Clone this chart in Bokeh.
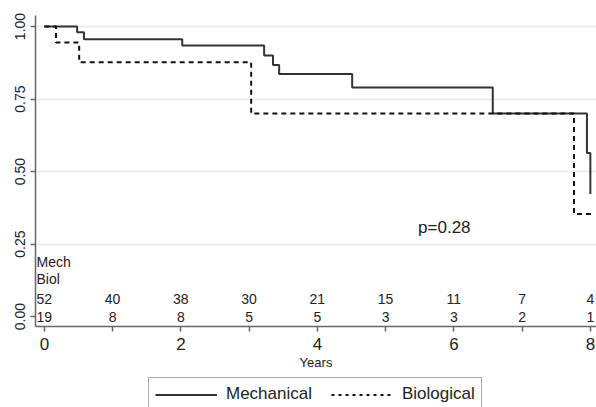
from bokeh.plotting import figure
from bokeh.layouts import column
from bokeh.models import Range1d, FixedTicker, Legend, LegendItem
from bokeh.core.properties import value
from bokeh.embed import file_html
from bokeh.resources import INLINE

# Kaplan-Meier step data
mech_time = [0.0, 0.48, 0.58, 2.02, 3.22, 3.35, 3.44, 4.51, 6.57, 7.95, 8.0]
mech_surv = [1.0, 0.98, 0.956, 0.935, 0.90, 0.867, 0.836, 0.79, 0.70, 0.564, 0.423]
biol_time = [0.0, 0.17, 0.51, 3.03, 7.76, 8.01]
biol_surv = [1.0, 0.945, 0.877, 0.70, 0.354, 0.354]

# numbers at risk
risk_years = [0, 1, 2, 3, 4, 5, 6, 7, 8]
mech_risk = [52, 40, 38, 30, 21, 15, 11, 7, 4]
biol_risk = [19, 8, 8, 5, 5, 3, 3, 2, 1]

x_ticks = [0, 2, 4, 6, 8]
x_minor = [1, 3, 5, 7]
y_ticks = [0.0, 0.25, 0.5, 0.75, 1.0]
y_labels = ["0.00", "0.25", "0.50", "0.75", "1.00"]
series_names = ["Mechanical", "Biological"]
p_text = "p=0.28"

FONT = "Liberation Sans"
TXT = "#222222"
LINE = "#333333"

p = figure(width=596, height=372, x_range=Range1d(-0.13, 8.09), y_range=Range1d(-0.034, 1.038),
           output_backend="svg", toolbar_location=None,
           min_border_left=35, min_border_right=0, min_border_top=15, min_border_bottom=45)
p.outline_line_color = None
p.background_fill_color = "white"

p.step(mech_time, mech_surv, mode="after", line_color=LINE, line_width=2)
p.step(biol_time, biol_surv, mode="after", line_color="#111111", line_width=2, line_dash="5 4")

# numbers at risk table
p.text(x=[-0.115], y=[0.19], text=["Mech"], text_font=value(FONT), text_font_size="14px",
       text_color=TXT, text_align="left", text_baseline="middle")
p.text(x=[-0.115], y=[0.13], text=["Biol"], text_font=value(FONT), text_font_size="14px",
       text_color=TXT, text_align="left", text_baseline="middle")
p.text(x=risk_years, y=[0.062] * len(risk_years), text=[str(v) for v in mech_risk],
       text_font=value(FONT), text_font_size="14px", text_color=TXT,
       text_align="center", text_baseline="middle")
p.text(x=risk_years, y=[0.0] * len(risk_years), text=[str(v) for v in biol_risk],
       text_font=value(FONT), text_font_size="14px", text_color=TXT,
       text_align="center", text_baseline="middle")
p.text(x=[5.86], y=[0.306], text=[p_text], text_font=value(FONT), text_font_size="17px",
       text_color=TXT, text_align="center", text_baseline="middle")

# axes
p.xaxis.ticker = FixedTicker(ticks=x_ticks, minor_ticks=x_minor)
p.xaxis.axis_label = "Years"
p.xaxis.axis_label_text_font = FONT
p.xaxis.axis_label_text_font_style = "normal"
p.xaxis.axis_label_text_font_size = "13px"
p.xaxis.axis_label_text_color = TXT
p.xaxis.axis_label_standoff = 2
p.xaxis.major_label_text_font = FONT
p.xaxis.major_label_text_font_size = "17px"
p.xaxis.major_label_text_color = TXT
p.xaxis.major_label_standoff = 6
p.xaxis.major_tick_out = 5
p.xaxis.major_tick_in = 0
p.xaxis.minor_tick_out = 5
p.xaxis.minor_tick_in = 0

p.yaxis.ticker = FixedTicker(ticks=y_ticks)
p.yaxis.major_label_overrides = {t: l for t, l in zip(y_ticks, y_labels)}
p.yaxis.major_label_orientation = "vertical"
p.yaxis.major_label_text_font = FONT
p.yaxis.major_label_text_font_size = "14px"
p.yaxis.major_label_text_color = TXT
p.yaxis.major_label_standoff = 5
p.yaxis.major_tick_out = 5
p.yaxis.major_tick_in = 0
p.yaxis.minor_tick_out = 0
p.yaxis.minor_tick_in = 0

for ax in (p.xaxis, p.yaxis):
    ax.axis_line_color = "#666666"
    ax.axis_line_width = 1.5
    ax.major_tick_line_color = "#666666"
    ax.major_tick_line_width = 1.5
    ax.minor_tick_line_color = "#666666"
    ax.minor_tick_line_width = 1.5

p.xgrid.visible = False
p.ygrid.ticker = FixedTicker(ticks=[0.25, 0.5, 0.75, 1.0])
p.ygrid.grid_line_color = "#e8e8e8"
p.ygrid.grid_line_width = 1.5

# legend strip below the plot (its frame is aligned with the plot's frame)
lg = figure(width=596, height=35, x_range=Range1d(0, 1), y_range=Range1d(0, 1),
            output_backend="svg", toolbar_location=None,
            min_border_left=0, min_border_right=0, min_border_top=0, min_border_bottom=0)
lg.axis.visible = False
lg.grid.visible = False
lg.outline_line_color = None
# legend keys: lines kept outside the visible range
k_m = lg.line(x=[5, 6], y=[5, 5], line_color=LINE, line_width=2)
k_b = lg.line(x=[5, 6], y=[5, 5], line_color="#111111", line_width=2, line_dash="3 4")

legend = Legend(items=[LegendItem(label=series_names[0], renderers=[k_m]),
                       LegendItem(label=series_names[1], renderers=[k_b])],
                orientation="horizontal", location=(113, -4))
legend.label_text_font = FONT
legend.label_text_font_size = "17px"
legend.label_text_color = TXT
legend.border_line_color = "#555555"
legend.border_line_width = 1
legend.glyph_width = 62
legend.label_standoff = 9
legend.spacing = 19
legend.padding = 6
legend.margin = 0
legend.label_height = 17
legend.glyph_height = 17
lg.add_layout(legend, "center")

layout = column(p, lg, spacing=0)
open("out.html", "w").write(file_html(layout, INLINE))
